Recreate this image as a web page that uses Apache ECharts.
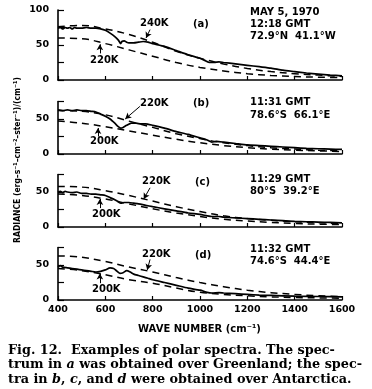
<!DOCTYPE html>
<html><head><meta charset="utf-8">
<script src="https://cdn.jsdelivr.net/npm/echarts@6/dist/echarts.min.js"></script>
<style>html,body{margin:0;padding:0;background:#fff}#c{width:372px;height:389px}</style>
</head><body><div id="c"></div><script>
// ---- data (wave number cm^-1, radiance) ----
const dashX = [400,500,600,700,800,900,1000,1100,1200,1300,1400,1500,1600];
const xTicks = [400,600,800,1000,1200,1400,1600];

// panel a
const a240 = [76,78,73,65,54,41,31,23,16.5,12,9,7,5];
const a220 = [60,59,52,43,34,25,18,13,9,6.5,5,4,3.5];
const aSolidX = [400,410,420,430,440,450,460,470,480,500,520,540,560,580,600,620,640,655,665,670,680,690,700,720,740,760,780,800,850,900,950,1000,1020,1040,1060,1080,1100,1150,1200,1250,1300,1350,1400,1450,1500,1550,1600];
const aSolidY = [74,75,73,75,74,75,73,75,74,74,75,74,74,73,71,67,62,57,52,55,56,54,53,53,54,55,54,52,48,42,36,31,28,25,25,26,25,23,21,19,17,14,12,10,8.5,7,6];

// panel b
const b220 = [62,61,56,47,38,29,22,16,12,9,7,5.5,4.5];
const b200 = [47,44,39,33,27,21,16,12,9,7,5.5,4.5,3.5];
const bSolidX = [400,420,440,460,480,500,520,540,560,580,600,620,640,655,665,675,690,710,730,750,770,800,850,900,950,1000,1030,1050,1070,1100,1150,1200,1250,1300,1350,1400,1450,1500,1550,1600];
const bSolidY = [63,62,63,62,63,62,62,61,60,57,54,50,44,39,37,38,41,44,44,43,43,41,37,32,28,23,20,17,18,17,15,13,12,11,10,9,8,7.5,7,6.5];

// panel c
const c220 = [58,57,52,45,37,29,22,16,12,9.5,7.5,6,5];
const c200 = [47,45,40,33,26,20,15,11,8.5,6.5,5,4,3.5];
const cSolidX = [400,410,420,430,440,460,480,500,520,540,560,580,600,620,640,655,665,680,700,720,740,770,800,850,900,950,1000,1030,1050,1080,1100,1150,1200,1250,1300,1350,1400,1450,1500,1550,1600];
const cSolidY = [50,51,49,51,50,49,50,48,48,47,47,46,45,42,39,36,34,35,35,34,33,31,29,26,23,20,18,16,15,15,14,13,12,11,10,9,8,7.5,7,6.5,6];

// panel d
const d220 = [63,61,55,47,40,32,25,19,14,10.5,8,6,5];
const d200 = [45,42,36,29,24,17,11,8,6,4.5,3.5,3,2.5];
const dSolidX = [400,410,420,440,460,480,500,520,540,560,580,600,620,635,650,662,675,690,705,720,740,760,780,800,850,900,950,1000,1030,1050,1080,1100,1150,1200,1250,1300,1400,1500,1600];
const dSolidY = [47,49,47,46,45,44,43,42,41,40,41,43,46,45,41,38,39,42,40,37,35,33,31,29,25,21,17,14,11,10,10.5,10,9,8,7,6.5,5.5,5,4.5];

// annotation arrows [x1,y1,x2,y2] in data units
const arrowsA = [[789,72,772,60],[577,38,577,51]];
const arrowsB = [[746,68,684,50],[569,25,569,37]];
const arrowsC = [[789,56,762,40],[577,27,577,40]];
const arrowsD = [[789,58,777,43],[577,24,577,38]];

// ---- layout ----
const grids = [
  {left:58, width:284, top:10, height:70, max:100},
  {left:58, width:284, top:101.5, height:52.5, max:75},
  {left:58, width:284, top:174.5, height:52.5, max:75},
  {left:58, width:284, top:247.5, height:52.5, max:75}
];
const pairs = (xs, ys) => xs.map((x,i)=>[x, ys[i]]);
const TF = 'DejaVu Sans';

const xAxes = grids.map((g,i)=>({
  type:'value', gridIndex:i, min:400, max:1600, interval:200,
  axisLine:{show:true, lineStyle:{color:'#000', width:1.6}},
  axisTick:{show:true, inside:true, length:4, lineStyle:{color:'#000', width:1.2}},
  axisLabel:{show:i===3, color:'#000', fontFamily:TF, fontWeight:'bold', fontSize:9.5, margin:5,
    formatter:v=>String(v)},
  splitLine:{show:false}
}));
const yAxes = grids.map((g,i)=>({
  type:'value', gridIndex:i, min:0, max:g.max, interval:25,
  axisLine:{show:true, lineStyle:{color:'#000', width:1.6}},
  axisTick:{show:true, inside:true, length:6, lineStyle:{color:'#000', width:1.2}},
  axisLabel:{color:'#000', fontFamily:TF, fontWeight:'bold', fontSize:9.5, margin:9,
    formatter:v=> (v%50===0 ? String(v) : '')},
  splitLine:{show:false}
}));

function dashed(i, ys){
  return {type:'line', xAxisIndex:i, yAxisIndex:i, data:pairs(dashX, ys), smooth:0.4,
    showSymbol:false, lineStyle:{color:'#000', width:1.5, type:[7,5]}, silent:true, z:2};
}
function solid(i, xs, ys, arrows){
  return {type:'line', xAxisIndex:i, yAxisIndex:i, data:pairs(xs, ys), smooth:0.2,
    showSymbol:false, lineStyle:{color:'#000', width:1.7}, silent:true, z:3,
    markLine:{silent:true, symbol:['none','arrow'], symbolSize:[5,6], animation:false,
      lineStyle:{color:'#000', type:'solid', width:1}, label:{show:false},
      data: arrows.map(a=>[{coord:[a[0],a[1]]},{coord:[a[2],a[3]]}])}};
}

const series = [
  dashed(0,a240), dashed(0,a220), solid(0,aSolidX,aSolidY,arrowsA),
  dashed(1,b220), dashed(1,b200), solid(1,bSolidX,bSolidY,arrowsB),
  dashed(2,c220), dashed(2,c200), solid(2,cSolidX,cSolidY,arrowsC),
  dashed(3,d220), dashed(3,d200), solid(3,dSolidX,dSolidY,arrowsD)
];

// ---- texts ----
const texts = [
  ['MAY 5, 1970',250,13], ['12:18 GMT',250,25], ['72.9°N  41.1°W',250,37],
  ['240K',140,24], ['(a)',193,25], ['220K',90,61],
  ['11:31 GMT',250,103], ['78.6°S  66.1°E',250,116], ['220K',140,104], ['(b)',193,104], ['200K',90,142],
  ['11:29 GMT',250,180], ['80°S  39.2°E',250,192], ['220K',142,182], ['(c)',195,183], ['200K',92,215],
  ['11:32 GMT',250,250], ['74.6°S  44.4°E',250,262], ['220K',142,255], ['(d)',195,256], ['200K',92,290]
];
const graphic = texts.map(t=>({type:'text', left:t[1], top:t[2]-6,
  style:{text:t[0], fill:'#000', font:'bold 10px "DejaVu Sans"'}}));

graphic.push({type:'text', left:138, top:324,
  style:{text:'WAVE NUMBER (cm⁻¹)', fill:'#000', font:'bold 10px "DejaVu Sans"'}});
graphic.push({type:'text', x:18, y:160, rotation:Math.PI/2,
  style:{text:'RADIANCE (erg–s⁻¹–cm⁻²–ster⁻¹)/(cm⁻¹)', fill:'#000', align:'center', verticalAlign:'middle',
    font:'bold 8.5px "Liberation Sans Narrow", "DejaVu Sans Condensed", sans-serif'}});
const caption = [
  '{n|Fig. 12.  Examples of polar spectra. The spec-}',
  '{n|trum in }{i|a}{n| was obtained over Greenland; the spec-}',
  '{n|tra in }{i|b}{n|, }{i|c}{n|, and }{i|d}{n| were obtained over Antarctica.}'
];
const capRich = {
  n:{fontFamily:'DejaVu Serif', fontWeight:'bold', fontSize:12.8, fill:'#000'},
  i:{fontFamily:'DejaVu Serif', fontWeight:'bold', fontStyle:'italic', fontSize:12.8, fill:'#000'}
};
caption.forEach((c,i)=>graphic.push({type:'text', left:8, top:344+i*14.5,
  style:{text:c, rich:capRich, fill:'#000', font:'bold 12.8px "DejaVu Serif"'}}));

const chart = echarts.init(document.getElementById('c'), null, {renderer:'canvas'});
chart.setOption({
  backgroundColor:'#fff', animation:false,
  grid: grids.map(g=>({left:g.left, width:g.width, top:g.top, height:g.height})),
  xAxis:xAxes, yAxis:yAxes, series, graphic
});
</script></body></html>
